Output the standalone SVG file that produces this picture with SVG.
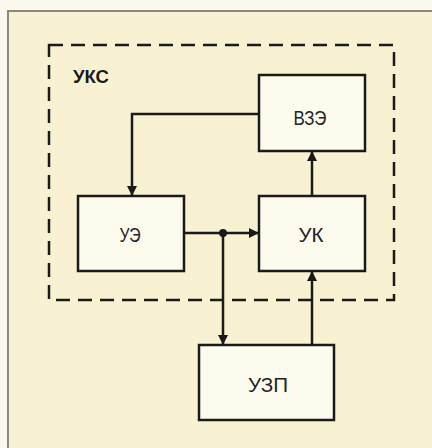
<svg xmlns="http://www.w3.org/2000/svg" width="432" height="448" viewBox="0 0 432 448">
<defs>
<style>
.box{fill:#fdfbee;stroke:#1a1a1a;stroke-width:2.5}
.lbl{font-family:"Liberation Sans",Arial,sans-serif;font-size:21px;fill:#222;text-anchor:middle}
.ln{fill:none;stroke:#1a1a1a;stroke-width:2.5}
</style>
<marker id="ah" viewBox="0 0 10 10" refX="10" refY="5" markerWidth="10" markerHeight="10" markerUnits="userSpaceOnUse" orient="auto">
<path d="M0,0 L10,5 L0,10 Z" fill="#1a1a1a"/>
</marker>
</defs>
<rect x="0" y="0" width="432" height="448" fill="#fbf9ee"/>
<rect x="8" y="11" width="430" height="445" fill="#f8f2d2" stroke="#8a8a80" stroke-width="2"/>
<rect x="49" y="45" width="345" height="255" fill="none" stroke="#1a1a1a" stroke-width="2.5" stroke-dasharray="14,8"/>
<text x="73" y="83" font-family="Liberation Sans,Arial,sans-serif" font-size="18" font-weight="bold" fill="#1a1a1a" textLength="36" lengthAdjust="spacingAndGlyphs">УКС</text>
<g id="connectors">
<path class="ln" d="M259,114 H132 V196" marker-end="url(#ah)"/>
<path class="ln" d="M312,196 V151" marker-end="url(#ah)"/>
<path class="ln" d="M184,233 H259" marker-end="url(#ah)"/>
<path class="ln" d="M223,233 V345" marker-end="url(#ah)"/>
<path class="ln" d="M312,345 V271" marker-end="url(#ah)"/>
<circle cx="223" cy="233" r="4" fill="#1a1a1a"/>
</g>
<g id="vze"><rect class="box" x="259" y="75" width="106" height="76"/><text class="lbl" x="310" y="125" textLength="33" lengthAdjust="spacingAndGlyphs">ВЗЭ</text></g>
<g id="ue"><rect class="box" x="78" y="196" width="106" height="75"/><text class="lbl" x="130" y="242" textLength="21" lengthAdjust="spacingAndGlyphs">УЭ</text></g>
<g id="uk"><rect class="box" x="259" y="196" width="106" height="75"/><text class="lbl" x="311" y="242" textLength="25" lengthAdjust="spacingAndGlyphs">УК</text></g>
<g id="uzp"><rect class="box" x="199" y="345" width="135" height="75"/><text class="lbl" x="268" y="392" textLength="40" lengthAdjust="spacingAndGlyphs">УЗП</text></g>
</svg>
